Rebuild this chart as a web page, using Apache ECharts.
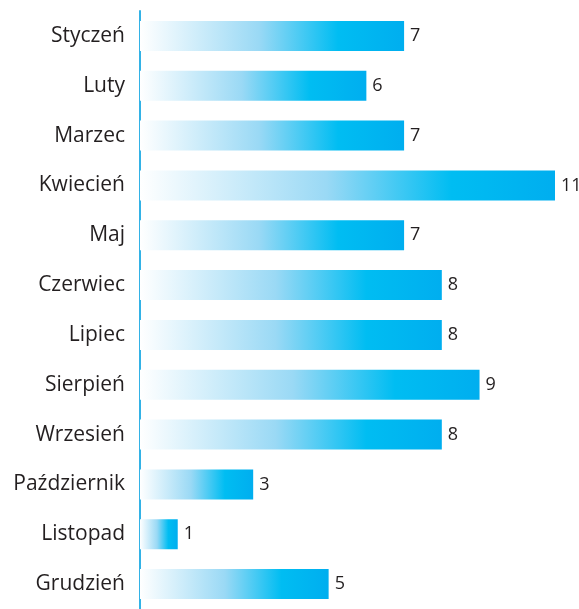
<!DOCTYPE html>
<html>
<head>
<meta charset="utf-8">
<script src="https://cdn.jsdelivr.net/npm/echarts@6/dist/echarts.min.js"></script>
<style>
  html, body { margin: 0; padding: 0; background: #fff; }
  #chart { width: 579px; height: 609px; }
</style>
</head>
<body>
<div id="chart"></div>
<script>
const months = ['Styczeń', 'Luty', 'Marzec', 'Kwiecień', 'Maj', 'Czerwiec', 'Lipiec', 'Sierpień', 'Wrzesień', 'Październik', 'Listopad', 'Grudzień'];
const values = [7, 6, 7, 11, 7, 8, 8, 9, 8, 3, 1, 5];

const chart = echarts.init(document.getElementById('chart'));

const option = {
  animation: false,
  grid: {
    left: 140,
    right: 24,
    top: 11,
    bottom: -2
  },
  xAxis: {
    type: 'value',
    min: 0,
    max: 11,
    show: false
  },
  yAxis: {
    type: 'category',
    data: months,
    inverse: true,
    axisLine: {
      show: true,
      lineStyle: { color: '#33b2e6', width: 2 }
    },
    axisTick: { show: false },
    axisLabel: {
      color: '#231f20',
      fontFamily: 'Open Sans',
      fontSize: 21,
      margin: 15,
      padding: [4, 0, 0, 0]
    }
  },
  series: [
    {
      type: 'bar',
      data: values,
      barWidth: 30,
      itemStyle: {
        // biały po lewej, niebieski po prawej
        color: new echarts.graphic.LinearGradient(0, 0, 1, 0, [
          { offset: 0, color: '#ffffff' },
          { offset: 0.45, color: '#9ad9f5' },
          { offset: 0.75, color: '#00bdf2' },
          { offset: 1, color: '#00aeef' }
        ])
      },
      label: {
        show: true,
        position: 'right',
        distance: 6,
        color: '#231f20',
        fontFamily: 'Open Sans',
        fontSize: 18,
        padding: [3, 0, 0, 0]
      }
    }
  ]
};

chart.setOption(option);
</script>
</body>
</html>
